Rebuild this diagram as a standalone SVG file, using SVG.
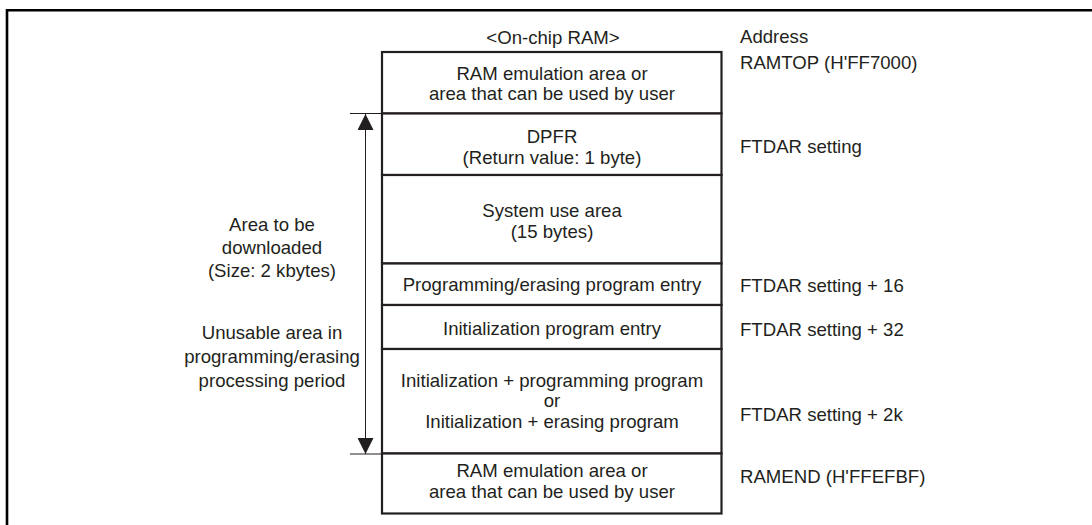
<svg xmlns="http://www.w3.org/2000/svg" width="1092" height="525" viewBox="0 0 1092 525">
  <style>
    text { font-family: "Liberation Sans", Arial, sans-serif; font-size: 18.6px; fill: #231f20; }
    .c { text-anchor: middle; }
    .box { fill: #ffffff; stroke: #231f20; stroke-width: 2.2; }
    .tick { stroke: #231f20; stroke-width: 1; fill: none; }
    .frame { stroke: #000000; stroke-width: 2.6; fill: none; }
  </style>
  <defs>
    <marker id="ah" viewBox="0 0 16 16" refX="16" refY="8" markerWidth="16" markerHeight="16" markerUnits="userSpaceOnUse" orient="auto">
      <path d="M0,0 L16,8 L0,16 Z" fill="#231f20"/>
    </marker>
  </defs>

  <g id="frame">
    <path class="frame" d="M7,525 L7,10.3 L1092,10.3"/>
  </g>

  <g id="header">
    <text class="c" x="553" y="44">&lt;On-chip RAM&gt;</text>
    <text x="740" y="43">Address</text>
  </g>

  <g id="row-ram-top">
    <rect class="box" x="382" y="52" width="339.5" height="61.5"/>
    <text class="c" x="552" y="80">RAM emulation area or</text>
    <text class="c" x="552" y="100">area that can be used by user</text>
  </g>
  <g id="row-dpfr">
    <rect class="box" x="382" y="113.5" width="339.5" height="61.5"/>
    <text class="c" x="552" y="143">DPFR</text>
    <text class="c" x="552" y="164">(Return value: 1 byte)</text>
  </g>
  <g id="row-system">
    <rect class="box" x="382" y="175" width="339.5" height="88.5"/>
    <text class="c" x="552" y="217">System use area</text>
    <text class="c" x="552" y="238">(15 bytes)</text>
  </g>
  <g id="row-prog-entry">
    <rect class="box" x="382" y="263.5" width="339.5" height="41.5"/>
    <text class="c" x="552" y="291">Programming/erasing program entry</text>
  </g>
  <g id="row-init-entry">
    <rect class="box" x="382" y="305" width="339.5" height="44"/>
    <text class="c" x="552" y="335">Initialization program entry</text>
  </g>
  <g id="row-programs">
    <rect class="box" x="382" y="349" width="339.5" height="104.5"/>
    <text class="c" x="552" y="387">Initialization + programming program</text>
    <text class="c" x="552" y="407">or</text>
    <text class="c" x="552" y="428">Initialization + erasing program</text>
  </g>
  <g id="row-ram-bottom">
    <rect class="box" x="382" y="453.5" width="339.5" height="60"/>
    <text class="c" x="552" y="477">RAM emulation area or</text>
    <text class="c" x="552" y="498">area that can be used by user</text>
  </g>

  <g id="addresses">
    <text x="740" y="69">RAMTOP (H'FF7000)</text>
    <text x="740" y="153">FTDAR setting</text>
    <text x="740" y="292">FTDAR setting + 16</text>
    <text x="740" y="336">FTDAR setting + 32</text>
    <text x="740" y="421">FTDAR setting + 2k</text>
    <text x="740" y="483">RAMEND (H'FFEFBF)</text>
  </g>

  <g id="left-labels">
    <text class="c" x="272" y="231">Area to be</text>
    <text class="c" x="272" y="254">downloaded</text>
    <text class="c" x="272" y="277">(Size: 2 kbytes)</text>
    <text class="c" x="272" y="339">Unusable area in</text>
    <text class="c" x="272" y="363">programming/erasing</text>
    <text class="c" x="272" y="387">processing period</text>
  </g>

  <g id="connectors">
    <line class="tick" x1="350" y1="113.5" x2="381" y2="113.5"/>
    <line class="tick" x1="350" y1="454" x2="381" y2="454"/>
    <line class="tick" x1="365.5" y1="284" x2="365.5" y2="114" marker-end="url(#ah)"/>
    <line class="tick" x1="365.5" y1="284" x2="365.5" y2="454" marker-end="url(#ah)"/>
  </g>
</svg>
